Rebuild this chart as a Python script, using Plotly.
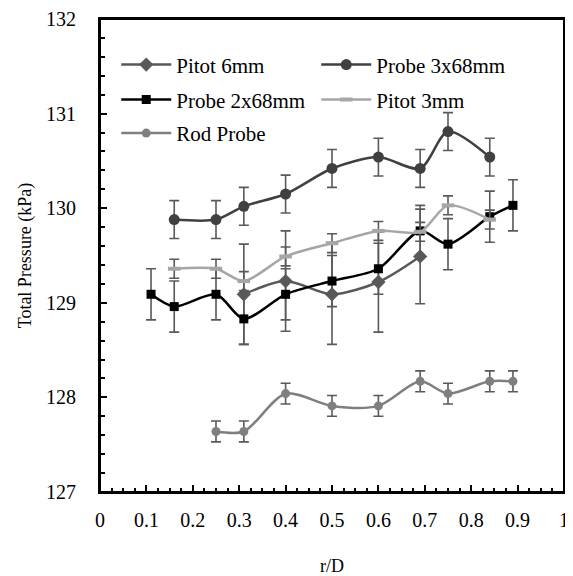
import plotly.graph_objects as go

# ---- data ----
pitot6_x = [0.31, 0.40, 0.50, 0.60, 0.69]
pitot6_y = [129.09, 129.23, 129.09, 129.22, 129.49]
pitot6_err = [0.53, 0.53, 0.53, 0.53, 0.50]

probe3_x = [0.16, 0.25, 0.31, 0.40, 0.50, 0.60, 0.69, 0.75, 0.84]
probe3_y = [129.88, 129.88, 130.02, 130.15, 130.42, 130.54, 130.42, 130.81, 130.54]
probe3_err = [0.20] * 9

probe2_x = [0.11, 0.16, 0.25, 0.31, 0.40, 0.50, 0.60, 0.69, 0.75, 0.84, 0.89]
probe2_y = [129.09, 128.96, 129.09, 128.83, 129.09, 129.23, 129.36, 129.76, 129.62, 129.91, 130.03]
probe2_err = [0.27] * 11

pitot3_x = [0.16, 0.25, 0.31, 0.40, 0.50, 0.60, 0.69, 0.75, 0.84]
pitot3_y = [129.36, 129.36, 129.23, 129.49, 129.63, 129.76, 129.75, 130.03, 129.88]
pitot3_err = [0.10] * 9

rod_x = [0.25, 0.31, 0.40, 0.50, 0.60, 0.69, 0.75, 0.84, 0.89]
rod_y = [127.64, 127.64, 128.04, 127.91, 127.91, 128.17, 128.04, 128.17, 128.17]
rod_err = [0.11] * 9

series_names = ["Pitot 6mm", "Probe 3x68mm", "Probe 2x68mm", "Pitot 3mm", "Rod Probe"]

FONT = "Times New Roman"
ERRC = "#595959"

def err(vals):
    return dict(type="data", array=vals, visible=True, color=ERRC, thickness=1.6, width=5)

fig = go.Figure()
fig.add_trace(go.Scatter(x=pitot6_x, y=pitot6_y, name=series_names[0], mode="lines+markers",
                         legend="legend",
                         line=dict(color="#595959", width=2.5, shape="spline", smoothing=0.8),
                         marker=dict(symbol="diamond", size=11, color="#595959"),
                         error_y=err(pitot6_err)))
fig.add_trace(go.Scatter(x=probe3_x, y=probe3_y, name=series_names[1], mode="lines+markers",
                         legend="legend",
                         line=dict(color="#404040", width=2.5, shape="spline", smoothing=0.8),
                         marker=dict(symbol="circle", size=11, color="#404040"),
                         error_y=err(probe3_err)))
fig.add_trace(go.Scatter(x=probe2_x, y=probe2_y, name=series_names[2], mode="lines+markers",
                         legend="legend2",
                         line=dict(color="#000000", width=2.5, shape="spline", smoothing=0.8),
                         marker=dict(symbol="square", size=9, color="#000000"),
                         error_y=err(probe2_err)))
fig.add_trace(go.Scatter(x=pitot3_x, y=pitot3_y, name=series_names[3], mode="lines+markers",
                         legend="legend2",
                         line=dict(color="#a6a6a6", width=2.5, shape="spline", smoothing=0.8),
                         marker=dict(symbol="line-ew", size=9, color="#a6a6a6",
                                     line=dict(color="#a6a6a6", width=4)),
                         error_y=err(pitot3_err)))
fig.add_trace(go.Scatter(x=rod_x, y=rod_y, name=series_names[4], mode="lines+markers",
                         legend="legend3",
                         line=dict(color="#7f7f7f", width=2.5, shape="spline", smoothing=0.8),
                         marker=dict(symbol="circle", size=9, color="#7f7f7f"),
                         error_y=err(rod_err)))

def leg(y):
    return dict(orientation="h", x=0.035, y=y, xanchor="left", yanchor="middle",
                entrywidth=135, entrywidthmode="pixels", itemwidth=50,
                font=dict(family=FONT, size=21, color="black"),
                bgcolor="rgba(0,0,0,0)")

# the page body adds an 8px offset; the figure is sized so the plot box lands
# at about x 100..564, y 19..492 of the 573x576 window
fig.update_layout(
    width=565, height=568,
    margin=dict(l=92, r=9, t=11, b=84),
    paper_bgcolor="white", plot_bgcolor="white",
    font=dict(family=FONT, size=20, color="black"),
    showlegend=True,
    legend=leg(0.903), legend2=leg(0.829), legend3=leg(0.758),
    xaxis=dict(range=[0, 1], dtick=0.1, tick0=0, showgrid=False, zeroline=False,
               showline=True, linecolor="black", linewidth=2, mirror=True,
               ticks="inside", ticklen=7, tickwidth=1.5, tickcolor="black",
               minor=dict(dtick=0.025, ticks="inside", ticklen=4, tickwidth=1.5, tickcolor="black", showgrid=False),
               title=dict(text="r/D", font=dict(family=FONT, size=18), standoff=30),
               tickfont=dict(family=FONT, size=20), ticklabelstandoff=9, automargin=False,
               ticklabeloverflow="allow"),
    yaxis=dict(range=[127, 132], dtick=1, showgrid=False, zeroline=False,
               showline=True, linecolor="black", linewidth=2, mirror=True,
               ticks="inside", ticklen=7, tickwidth=1.5, tickcolor="black",
               minor=dict(dtick=0.2, ticks="inside", ticklen=5, tickwidth=1.5, tickcolor="black", showgrid=False),
               title=dict(text="Total Pressure (kPa)", font=dict(family=FONT, size=18), standoff=10),
               tickfont=dict(family=FONT, size=20), ticklabelstandoff=18, automargin=False,
               ticklabeloverflow="allow"),
    shapes=[dict(type="rect", xref="paper", yref="paper", x0=0, x1=1, y0=0, y1=1,
                 line=dict(color="black", width=2), fillcolor="rgba(0,0,0,0)", layer="above")],
)

fig.write_html("out.html")
